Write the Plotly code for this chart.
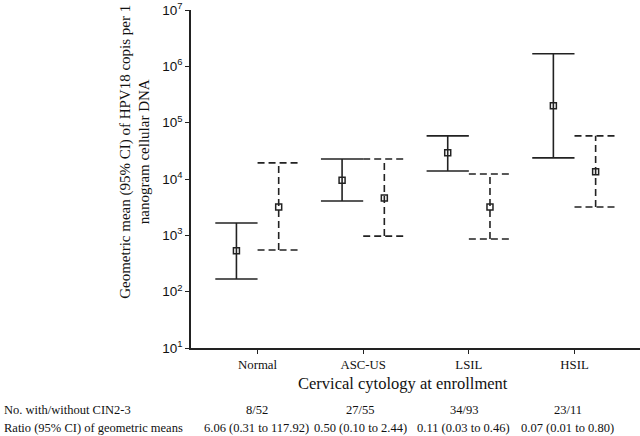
import plotly.graph_objects as go

categories = ["Normal", "ASC-US", "LSIL", "HSIL"]
# With CIN2-3 (solid)
with_mean = [530, 9550, 29100, 199000]
with_lo = [168, 4070, 13900, 23700]
with_hi = [1660, 22700, 58300, 1670000]
# Without CIN2-3 (dashed)
without_mean = [3190, 4610, 3190, 13400]
without_lo = [550, 970, 863, 3190]
without_hi = [19300, 22700, 12300, 58300]

counts = ["8/52", "27/55", "34/93", "23/11"]
ratios = ["6.06 (0.31 to 117.92)", "0.50 (0.10 to 2.44)", "0.11 (0.03 to 0.46)", "0.07 (0.01 to 0.80)"]
yticks = [10, 100, 1000, 10000, 100000, 1000000, 10000000]
yticktext = ["10<sup>1</sup>", "10<sup>2</sup>", "10<sup>3</sup>", "10<sup>4</sup>",
             "10<sup>5</sup>", "10<sup>6</sup>", "10<sup>7</sup>"]

OFFSET = 0.2
CAP = 0.2
SERIF = "Liberation Serif, Times New Roman, serif"
SANS = "Liberation Sans, Arial, sans-serif"


def bar_paths(xs, lo, hi):
    px, py = [], []
    for x, l, h in zip(xs, lo, hi):
        px += [x, x, None, x - CAP, x + CAP, None, x - CAP, x + CAP, None]
        py += [l, h, None, l, l, None, h, h, None]
    return px, py


xw = [i - OFFSET for i in range(len(categories))]
xo = [i + OFFSET for i in range(len(categories))]

fig = go.Figure()
px, py = bar_paths(xw, with_lo, with_hi)
fig.add_trace(go.Scatter(x=px, y=py, mode="lines", line=dict(color="#222", width=1.6),
                         hoverinfo="skip", showlegend=False))
px, py = bar_paths(xo, without_lo, without_hi)
fig.add_trace(go.Scatter(x=px, y=py, mode="lines", line=dict(color="#222", width=1.6, dash="7px,4px"),
                         hoverinfo="skip", showlegend=False))
fig.add_trace(go.Scatter(x=xw, y=with_mean, mode="markers",
                         marker=dict(symbol="square-open", size=6, color="#222", line=dict(width=1.5)),
                         showlegend=False))
fig.add_trace(go.Scatter(x=xo, y=without_mean, mode="markers",
                         marker=dict(symbol="square-open", size=6, color="#222", line=dict(width=1.5)),
                         showlegend=False))

fig.update_layout(
    width=640, height=436,
    margin=dict(l=191, r=0, t=10, b=88),
    plot_bgcolor="white", paper_bgcolor="white",
    showlegend=False,
    xaxis=dict(range=[-0.63, 3.62], tickvals=list(range(len(categories))), ticktext=categories,
               showline=True, linecolor="#222", linewidth=1.6, ticks="outside", ticklen=4,
               tickcolor="#222", showgrid=False, zeroline=False, automargin=False,
               tickfont=dict(family=SERIF, size=12.8, color="#111")),
    yaxis=dict(type="log", range=[1, 7], tickvals=yticks, ticktext=yticktext,
               showline=True, linecolor="#222", linewidth=1.6, ticks="outside", ticklen=4,
               tickcolor="#222", showgrid=False, zeroline=False, automargin=False,
               tickfont=dict(family=SANS, size=13.5, color="#111")),
)

ann = []
ann.append(dict(text="Geometric mean (95% CI) of HPV18 copis per 1<br>nanogram cellular DNA",
                textangle=-90, xref="paper", yref="paper", x=-0.125, y=0.58,
                xanchor="center", yanchor="middle", showarrow=False, align="center",
                font=dict(family=SERIF, size=15, color="#111")))
ann.append(dict(text="Cervical cytology at enrollment", xref="paper", yref="paper",
                x=0.472, y=-0.1036, xanchor="center", yanchor="middle", showarrow=False,
                font=dict(family=SERIF, size=16.5, color="#111")))
ann.append(dict(text="No. with/without CIN2-3", xref="paper", yref="paper", x=-0.421, y=-0.183,
                xanchor="left", yanchor="middle", showarrow=False,
                font=dict(family=SERIF, size=12.5, color="#111")))
ann.append(dict(text="Ratio (95% CI) of geometric means", xref="paper", yref="paper", x=-0.421, y=-0.237,
                xanchor="left", yanchor="middle", showarrow=False,
                font=dict(family=SERIF, size=12.5, color="#111")))
shifts = [-1, -3, -5, -7]
for i, (c, r) in enumerate(zip(counts, ratios)):
    ann.append(dict(text=c, xref="x", yref="paper", x=i, y=-0.183, xanchor="center", xshift=shifts[i],
                    yanchor="middle", showarrow=False, font=dict(family=SERIF, size=12.5, color="#111")))
    ann.append(dict(text=r, xref="x", yref="paper", x=i, y=-0.237, xanchor="center", xshift=shifts[i],
                    yanchor="middle", showarrow=False, font=dict(family=SERIF, size=12.5, color="#111")))
fig.update_layout(annotations=ann)

fig.write_html("out.html", config={"displayModeBar": False},
               post_script="document.body.style.margin='0';")
